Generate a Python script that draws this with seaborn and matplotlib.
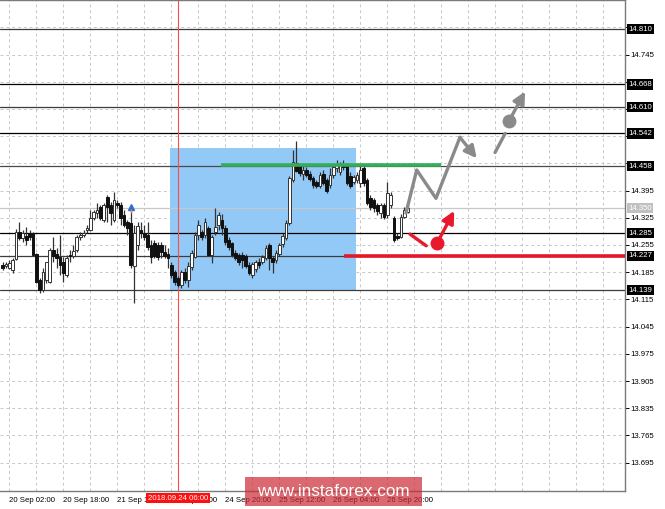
import matplotlib
matplotlib.use("Agg")
import numpy as np
import pandas as pd
import matplotlib.pyplot as plt
from matplotlib.patches import Rectangle
import seaborn as sns

# ---- candle data (hourly bars, index 0 = 20 Sep 02:00) ----
bars = list(range(-2, 119))
opens = [14.204, 14.201, 14.196, 14.191, 14.219, 14.289, 14.273, 14.278, 14.286, 14.286,
         14.232, 14.165, 14.139, 14.165, 14.160, 14.242, 14.232, 14.224, 14.211, 14.178,
         14.229, 14.227, 14.242, 14.276, 14.281, 14.294, 14.294, 14.325, 14.337, 14.353,
         14.319, 14.379, 14.358, 14.319, 14.363, 14.358, 14.332, 14.314, 14.312, 14.201,
         14.255, 14.294, 14.286, 14.281, 14.255, 14.260, 14.255, 14.255, 14.237, 14.232,
         14.204, 14.186, 14.170, 14.152, 14.186, 14.165, 14.198, 14.224, 14.281, 14.289,
         14.281, 14.299, 14.229, 14.289, 14.307, 14.319, 14.299, 14.268, 14.260, 14.234,
         14.229, 14.229, 14.227, 14.204, 14.178, 14.193, 14.211, 14.211, 14.222, 14.255,
         14.222, 14.216, 14.232, 14.258, 14.273, 14.312, 14.422, 14.466, 14.458, 14.438,
         14.448, 14.438, 14.427, 14.417, 14.407, 14.438, 14.422, 14.409, 14.435, 14.453,
         14.443, 14.463, 14.461, 14.433, 14.417, 14.422, 14.415, 14.453, 14.422, 14.376,
         14.371, 14.358, 14.337, 14.358, 14.332, 14.358, 14.325, 14.278, 14.276, 14.327,
         14.340]
highs = [14.211, 14.211, 14.216, 14.222, 14.296, 14.314, 14.294, 14.301, 14.294, 14.289,
         14.234, 14.170, 14.196, 14.211, 14.247, 14.276, 14.247, 14.281, 14.224, 14.229,
         14.242, 14.255, 14.281, 14.289, 14.294, 14.307, 14.345, 14.345, 14.363, 14.358,
         14.363, 14.384, 14.366, 14.391, 14.371, 14.366, 14.345, 14.319, 14.345, 14.307,
         14.314, 14.314, 14.307, 14.314, 14.268, 14.268, 14.263, 14.263, 14.255, 14.247,
         14.211, 14.191, 14.175, 14.191, 14.196, 14.211, 14.242, 14.289, 14.319, 14.294,
         14.325, 14.304, 14.281, 14.350, 14.340, 14.335, 14.307, 14.276, 14.263, 14.242,
         14.234, 14.237, 14.232, 14.211, 14.211, 14.216, 14.222, 14.229, 14.255, 14.260,
         14.227, 14.242, 14.260, 14.286, 14.319, 14.433, 14.499, 14.523, 14.463, 14.458,
         14.456, 14.445, 14.433, 14.422, 14.443, 14.448, 14.427, 14.453, 14.461, 14.474,
         14.469, 14.474, 14.466, 14.443, 14.435, 14.443, 14.458, 14.458, 14.427, 14.384,
         14.376, 14.363, 14.363, 14.363, 14.417, 14.391, 14.330, 14.286, 14.335, 14.353,
         14.358]
lows = [14.191, 14.196, 14.193, 14.183, 14.216, 14.268, 14.263, 14.255, 14.268, 14.227,
        14.157, 14.132, 14.134, 14.157, 14.157, 14.211, 14.196, 14.178, 14.160, 14.173,
        14.211, 14.222, 14.237, 14.268, 14.276, 14.286, 14.291, 14.319, 14.325, 14.319,
        14.314, 14.314, 14.307, 14.314, 14.350, 14.307, 14.301, 14.281, 14.196, 14.106,
        14.242, 14.273, 14.268, 14.242, 14.209, 14.222, 14.216, 14.222, 14.222, 14.196,
        14.170, 14.152, 14.147, 14.144, 14.157, 14.147, 14.191, 14.222, 14.268, 14.268,
        14.273, 14.227, 14.209, 14.281, 14.294, 14.281, 14.255, 14.242, 14.224, 14.216,
        14.204, 14.196, 14.196, 14.178, 14.170, 14.186, 14.196, 14.206, 14.216, 14.191,
        14.183, 14.209, 14.227, 14.250, 14.268, 14.307, 14.417, 14.443, 14.433, 14.422,
        14.430, 14.420, 14.402, 14.402, 14.402, 14.409, 14.389, 14.402, 14.427, 14.443,
        14.435, 14.448, 14.409, 14.402, 14.412, 14.415, 14.404, 14.407, 14.358, 14.345,
        14.340, 14.332, 14.325, 14.322, 14.325, 14.350, 14.263, 14.268, 14.273, 14.325,
        14.337]
closes = [14.196, 14.206, 14.209, 14.216, 14.289, 14.273, 14.286, 14.268, 14.276, 14.229,
          14.160, 14.139, 14.186, 14.211, 14.242, 14.227, 14.222, 14.204, 14.183, 14.222,
          14.227, 14.240, 14.276, 14.281, 14.286, 14.299, 14.325, 14.340, 14.345, 14.325,
          14.358, 14.353, 14.337, 14.371, 14.358, 14.325, 14.307, 14.299, 14.204, 14.286,
          14.304, 14.286, 14.276, 14.250, 14.224, 14.227, 14.224, 14.237, 14.227, 14.222,
          14.178, 14.160, 14.152, 14.186, 14.165, 14.201, 14.234, 14.281, 14.307, 14.276,
          14.314, 14.229, 14.276, 14.301, 14.332, 14.299, 14.263, 14.250, 14.229, 14.222,
          14.211, 14.216, 14.201, 14.183, 14.206, 14.211, 14.204, 14.224, 14.247, 14.222,
          14.211, 14.234, 14.255, 14.278, 14.312, 14.427, 14.469, 14.445, 14.440, 14.448,
          14.435, 14.425, 14.409, 14.407, 14.435, 14.415, 14.394, 14.435, 14.456, 14.463,
          14.461, 14.456, 14.415, 14.407, 14.430, 14.435, 14.448, 14.415, 14.363, 14.353,
          14.350, 14.343, 14.358, 14.327, 14.389, 14.384, 14.268, 14.273, 14.327, 14.345,
          14.350]

# ---- levels and labels ----
level_prices = [14.810, 14.668, 14.610, 14.542, 14.458, 14.285, 14.227, 14.139]
level_colors = ["#3c3c3c", "#000000", "#3c3c3c", "#000000", "#4a4a4a", "#000000", "#3c3c3c", "#3c3c3c"]
level_labels = ["14.810", "14.668", "14.610", "14.542", "14.458", "14.285", "14.227", "14.139"]
bid_price = 14.350
y_ticks = [13.695, 13.765, 13.835, 13.905, 13.975, 14.045, 14.115, 14.185, 14.255,
           14.325, 14.395, 14.465, 14.535, 14.605, 14.675, 14.745, 14.815]
y_hidden = [14.465, 14.535, 14.605, 14.675, 14.815]   # covered by the level tags
time_ticks = [0, 16, 32, 48, 64, 80, 96, 112]
time_labels = ["20 Sep 02:00", "20 Sep 18:00", "21 Sep 10:00", "24 Sep 04:00",
               "24 Sep 20:00", "25 Sep 12:00", "26 Sep 04:00", "26 Sep 20:00"]
cursor_bar = 50
cursor_label = "2018.09.24 06:00"

# ---- drawn objects ----
box_bars = [47.6, 102.6]
box_prices = [14.139, 14.504]
green_bars = [62.7, 127.9]
green_price = 14.460
red_bars = [99.2, 182.4]
red_price = 14.227
gray_path_bars = [117.5, 120.7, 126.4, 133.5]
gray_path_prices = [14.337, 14.448, 14.375, 14.532]
gray_head = (138.5, 14.478)
gray_dash_bars = [143.9, 146.9]
gray_dash_prices = [14.493, 14.542]
gray_dot = (148.1, 14.575)
gray_tip = (152.8, 14.650)
red_seg_bars = [118.7, 123.5]
red_seg_prices = [14.283, 14.253]
red_dot = (126.8, 14.261)
red_tip = (131.8, 14.343)

sns.set_theme(style="white")
plt.rcParams["font.family"] = ["Liberation Sans", "DejaVu Sans"]

df = pd.DataFrame({"bar": bars, "open": opens, "high": highs, "low": lows, "close": closes})

fig = plt.figure(figsize=(6.65, 5.09), dpi=100)
fig.patch.set_facecolor("white")
ax = fig.add_axes([0, 18 / 509, 625 / 665, 491 / 509])
ax.set_facecolor("white")
ax.set_xlim(-2.76, 182.4)
ax.set_ylim(13.622, 14.8854)

# grid
for yt in y_ticks:
    ax.axhline(yt, color="#c8c8c8", lw=0.7, ls=(0, (3, 3)), zorder=0)
for xb in range(0, 184, 8):
    ax.axvline(xb, color="#c8c8c8", lw=0.7, ls=(0, (3, 3)), zorder=0)

# rectangle zone
ax.add_patch(Rectangle((box_bars[0], box_prices[0]), box_bars[1] - box_bars[0],
                       box_prices[1] - box_prices[0], facecolor="#93c9f7", edgecolor="none", zorder=0.5))

# horizontal levels
for p, c in zip(level_prices, level_colors):
    ax.axhline(p, color=c, lw=0.9, zorder=1)
ax.axhline(bid_price, color="#c8c8c8", lw=0.9, zorder=1)
ax.axvline(cursor_bar, color="#ff4a4a", lw=0.8, zorder=1)

# candles
ax.vlines(df["bar"], df["low"], df["high"], color="#333333", lw=0.9, zorder=3)
up = df[df["close"] >= df["open"]]
dn = df[df["close"] < df["open"]]
ax.bar(up["bar"], (up["close"] - up["open"]).clip(lower=0.001), bottom=up["open"], width=0.8,
       color="white", edgecolor="#333333", linewidth=0.7, zorder=4)
ax.bar(dn["bar"], dn["open"] - dn["close"], bottom=dn["close"], width=0.8,
       color="#111111", edgecolor="#111111", linewidth=0.7, zorder=4)
ax.plot([36], [14.353], marker="^", color="#2b6fd6", ms=4, zorder=5)
ax.plot([36], [14.343], marker="|", color="#f08030", ms=3, zorder=5)

# green / red levels
ax.plot(green_bars, [green_price, green_price], color="#35ad5a", lw=2.6, zorder=5, solid_capstyle="butt")
ax.plot(red_bars, [red_price, red_price], color="#e3192b", lw=2.6, zorder=5, solid_capstyle="butt")

arrow_kw = dict(arrowstyle="-|>", lw=2.4, mutation_scale=18, shrinkA=0, shrinkB=0)

# forecast arrows (gray)
sns.lineplot(x=gray_path_bars, y=gray_path_prices, sort=False,
             color="#8a8a8a", lw=2.4, ax=ax, zorder=6)
ax.annotate("", xy=gray_head, xytext=(gray_path_bars[-1], gray_path_prices[-1]),
            arrowprops=dict(color="#8a8a8a", **arrow_kw), zorder=7)
ax.plot(gray_dash_bars, gray_dash_prices, color="#8a8a8a", lw=2.4, zorder=6)
ax.plot([gray_dot[0]], [gray_dot[1]], "o", color="#8a8a8a", ms=9, zorder=7)
ax.annotate("", xy=gray_tip, xytext=gray_dot,
            arrowprops=dict(color="#8a8a8a", **arrow_kw), zorder=7)

# forecast arrows (red)
ax.plot(red_seg_bars, red_seg_prices, color="#e8192c", lw=2.4, zorder=6)
ax.plot([red_dot[0]], [red_dot[1]], "o", color="#e8192c", ms=9, zorder=7)
ax.annotate("", xy=red_tip, xytext=red_dot,
            arrowprops=dict(color="#e8192c", **arrow_kw), zorder=7)

# axes styling
ax.spines["left"].set_visible(False)
for s in ["right", "bottom", "top"]:
    ax.spines[s].set_color("#7a7a7a")
    ax.spines[s].set_linewidth(1.0)
ax.yaxis.tick_right()
ax.set_yticks(y_ticks)
ax.set_yticklabels(["" if v in y_hidden else f"{v:.3f}" for v in y_ticks])
ax.tick_params(axis="y", length=3, width=0.7, pad=1, labelsize=5.6, colors="#000000")
ax.set_xticks(time_ticks)
ax.set_xticklabels(time_labels, ha="left")
ax.tick_params(axis="x", length=3, width=0.7, pad=1.5, labelsize=5.6, colors="#000000")
ax.set_xlabel("")
ax.set_ylabel("")

# price tags
ytr = ax.get_yaxis_transform()
for p, lab in zip(level_prices, level_labels):
    ax.text(1.005, p, lab, transform=ytr, ha="left", va="center", fontsize=5.6, color="white",
            bbox=dict(boxstyle="square,pad=0.2", facecolor="black", edgecolor="none"), zorder=10, clip_on=False)
ax.text(1.005, bid_price, f"{bid_price:.3f}", transform=ytr, ha="left", va="center", fontsize=5.6, color="white",
        bbox=dict(boxstyle="square,pad=0.2", facecolor="#c0c0c0", edgecolor="none"), zorder=10, clip_on=False)

# time tag
ax.text(cursor_bar, -0.0145, cursor_label, transform=ax.get_xaxis_transform(), ha="center", va="center",
        fontsize=5.6, color="white", bbox=dict(boxstyle="square,pad=0.2", facecolor="#ff1010", edgecolor="none"),
        zorder=10, clip_on=False)

# watermark
fig.patches.append(Rectangle((245 / 665, 3 / 509), 177 / 665, 29 / 509, transform=fig.transFigure,
                             facecolor="#cc2a35", alpha=0.7, edgecolor="none", zorder=20))
fig.text(333.5 / 665, 17.5 / 509, "www.instaforex.com", ha="center", va="center", fontsize=12.3,
         color="white", zorder=21)

fig.savefig("out.png", dpi=100)
